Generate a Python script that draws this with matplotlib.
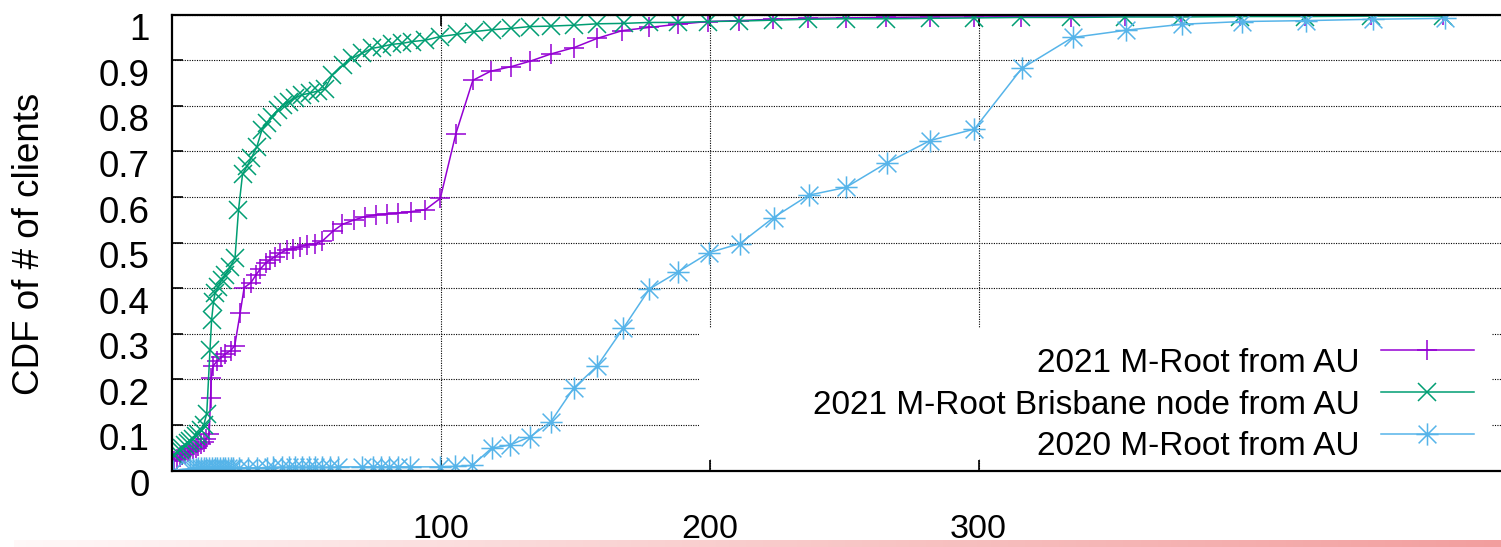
import numpy as np
import matplotlib.pyplot as plt
from matplotlib.patches import Rectangle
from matplotlib.path import Path
from matplotlib.transforms import ScaledTranslation
from matplotlib.colors import LinearSegmentedColormap

plt.rcParams['font.family'] = ['Liberation Sans', 'DejaVu Sans']

# RTT (ms) against the CDF of clients
mroot21_x = [1, 2, 3, 4, 5, 6, 7, 8, 9, 10, 11, 12, 13, 14, 14.5, 14.8, 15.5, 17, 18.5, 20, 22, 23.5,
             25.5, 27, 29.5, 31.5, 33, 35, 36.6, 38.5, 40.4, 42.8, 45.3, 47.8, 50.3, 53.4, 56, 60, 63.5,
             68, 72, 76, 80, 84, 89, 94.3, 99.9, 105.7, 112, 118.6, 126.2, 133.3, 141.1, 149.7, 158.2,
             167.5, 177.4, 188.1, 199.4, 210.8, 223.6, 236.5, 250.7, 265.6, 282, 298.3, 315.8, 334.5,
             354.5, 375.2, 397.2, 421.2, 446, 472.7]
mroot21_y = [0.02, 0.025, 0.03, 0.033, 0.036, 0.04, 0.043, 0.047, 0.05, 0.054, 0.058, 0.063, 0.07, 0.08,
             0.158, 0.204, 0.23, 0.24, 0.248, 0.256, 0.263, 0.274, 0.345, 0.401, 0.412, 0.43, 0.442, 0.455,
             0.462, 0.469, 0.477, 0.484, 0.487, 0.491, 0.495, 0.498, 0.503, 0.525, 0.54, 0.55, 0.557, 0.561,
             0.563, 0.565, 0.568, 0.572, 0.597, 0.739, 0.856, 0.876, 0.886, 0.898, 0.914, 0.928, 0.948,
             0.965, 0.972, 0.979, 0.985, 0.987, 0.990, 0.992, 0.993, 0.994, 0.995, 0.995, 0.996, 0.996,
             0.997, 0.997, 0.998, 0.998, 0.999, 0.999]

bris21_x = [1, 2, 3, 4, 5, 6, 7, 8, 9, 10, 11, 12, 13.1, 14.3, 14.9, 15.6, 16.2, 17.4, 18.6, 19.9, 21.8,
            23.6, 24.9, 26.4, 28, 29.6, 31.7, 33.6, 35.4, 37.3, 39.7, 41.6, 43.5, 45.9, 48.4, 51.5, 54.6,
            57, 59.8, 63.9, 67, 70.7, 74.4, 78.2, 81.9, 85.6, 89.3, 94.3, 99.8, 106.2, 112.6, 119, 126.2,
            133.3, 141.1, 149.6, 158.2, 168.2, 177.4, 188.1, 199.4, 210.9, 223.6, 236.5, 250.7, 265.6,
            282, 298.3, 315.8, 334.5, 354.5, 375.2, 397.2, 421.2, 446, 472.7]
bris21_y = [0.035, 0.04, 0.045, 0.05, 0.055, 0.06, 0.065, 0.07, 0.075, 0.08, 0.088, 0.1, 0.125, 0.264,
            0.33, 0.37, 0.389, 0.403, 0.418, 0.429, 0.447, 0.466, 0.571, 0.65, 0.667, 0.685, 0.71, 0.747,
            0.762, 0.776, 0.791, 0.802, 0.809, 0.817, 0.824, 0.828, 0.833, 0.838, 0.868, 0.89, 0.904,
            0.915, 0.926, 0.930, 0.935, 0.937, 0.941, 0.944, 0.952, 0.957, 0.963, 0.967, 0.970, 0.974,
            0.975, 0.977, 0.980, 0.981, 0.983, 0.983, 0.985, 0.986, 0.988, 0.990, 0.991, 0.991, 0.992,
            0.993, 0.994, 0.994, 0.995, 0.995, 0.996, 0.996, 0.997, 0.997]

mroot20_x = [0.5, 7, 8, 9, 10, 11, 12, 13, 14, 15, 16, 17, 18, 19, 20, 21, 22, 23, 25, 28.6, 31.8, 35.4,
             37.9, 41, 43.5, 46, 48.5, 51, 53.5, 56, 59, 62, 70.7, 75, 78, 81, 84, 88.7, 99.8, 105.5,
             111.7, 119, 125.8, 133.3, 141, 149.5, 158.2, 167.9, 177.6, 188.3, 199.9, 211.3, 223.8,
             236.8, 250.6, 265.9, 282, 298.4, 316, 334.9, 354.9, 375.5, 397.7, 421.6, 446.4, 473.2]
mroot20_y = [0.0, 0.004, 0.004, 0.004,
             0.005, 0.005, 0.005, 0.005, 0.005, 0.005, 0.005, 0.005, 0.005,
             0.006, 0.006, 0.006, 0.006, 0.006, 0.006, 0.006, 0.006, 0.006,
             0.007, 0.007, 0.007, 0.007, 0.007, 0.007, 0.007, 0.007, 0.007,
             0.008, 0.008, 0.008, 0.008, 0.008, 0.008, 0.008, 0.008,
             0.009, 0.011,
             0.049, 0.056, 0.074, 0.107, 0.181, 0.229, 0.312,
             0.398, 0.436, 0.478, 0.498, 0.555, 0.604, 0.621, 0.675, 0.724, 0.749,
             0.882, 0.950, 0.966, 0.979, 0.985, 0.987, 0.990, 0.992]

labels = ['2021 M-Root from AU', '2021 M-Root Brisbane node from AU', '2020 M-Root from AU']
colors = ['#9400d3', '#009e73', '#56b4e9']
xticks = [100, 200, 300]
xtick_labels = ['100', '200', '300']
yticks = [0, 0.1, 0.2, 0.3, 0.4, 0.5, 0.6, 0.7, 0.8, 0.9, 1]
ytick_labels = ['0', '0.1', '0.2', '0.3', '0.4', '0.5', '0.6', '0.7', '0.8', '0.9', '1']

# gnuplot style asterisk: plus and cross on top of each other
star = Path([(-1, 0), (1, 0), (0, -1), (0, 1), (-0.8, -0.8), (0.8, 0.8), (-0.8, 0.8), (0.8, -0.8)],
            [Path.MOVETO, Path.LINETO] * 4)

W, H = 1501, 547
fig = plt.figure(figsize=(W / 100, H / 100), dpi=100)
ax = fig.add_axes([171.5 / W, 76.5 / H, 1345.25 / W, 455.8 / H])

lines = []
lines += ax.plot(mroot21_x, mroot21_y, color=colors[0], lw=1.1, marker='+', ms=15, mew=1.1, label=labels[0])
lines += ax.plot(bris21_x, bris21_y, color=colors[1], lw=1.1, marker='x', ms=13, mew=1.1, label=labels[1])
lines += ax.plot(mroot20_x, mroot20_y, color=colors[2], lw=1.1, marker=star, ms=16, mew=1.1, label=labels[2])

ax.set_xlim(0, 500)
ax.set_ylim(0, 1)
ax.set_xticks(xticks)
ax.set_xticklabels(xtick_labels)
ax.set_yticks(yticks)
ax.set_yticklabels(ytick_labels)
ax.tick_params(direction='in', length=8, width=1.2, top=True, right=True)
ax.tick_params(axis='x', pad=31, labelsize=24.5)
ax.tick_params(axis='y', pad=15.5, labelsize=26.5)
for s in ax.spines.values():
    s.set_linewidth(1.6)
ax.grid(True, color='black', lw=0.8, linestyle=(0, (1, 1.2)))

# gnuplot draws the tick labels a little lower than the tick
down = ScaledTranslation(0, -0.12, fig.dpi_scale_trans)
for t in ax.get_yticklabels():
    t.set_transform(t.get_transform() + down)

# opaque key area
ax.add_patch(Rectangle((0.3921, 0.025), 0.5895, 0.2876, transform=ax.transAxes,
                       facecolor='white', edgecolor='none', zorder=1.8))
leg = ax.legend(handles=lines, loc='center right', bbox_to_anchor=(0.9682, 0.1656),
                markerfirst=False, frameon=False, fontsize=24, handlelength=2.8,
                handletextpad=0.64, labelspacing=0.32, borderpad=0, borderaxespad=0,
                alignment='right')
down_leg = ScaledTranslation(0, -0.10, fig.dpi_scale_trans)
for t in leg.get_texts():
    t.set_transform(t.get_transform() + down_leg)

fig.text(30 / W, 1 - 243.5 / H, 'CDF of # of clients', rotation=90, ha='center', va='center', fontsize=26.5)

# pink band along the bottom edge
band = fig.add_axes([14 / W, 0, 1 - 14 / W, 7.5 / H])
band.set_zorder(-1)
pink = LinearSegmentedColormap.from_list('pink', [(1.0, 0.975, 0.975), (0.95, 0.62, 0.62)])
band.imshow(np.linspace(0, 1, 512)[None, :], cmap=pink, aspect='auto')
band.axis('off')

fig.savefig('out.png', dpi=100)
